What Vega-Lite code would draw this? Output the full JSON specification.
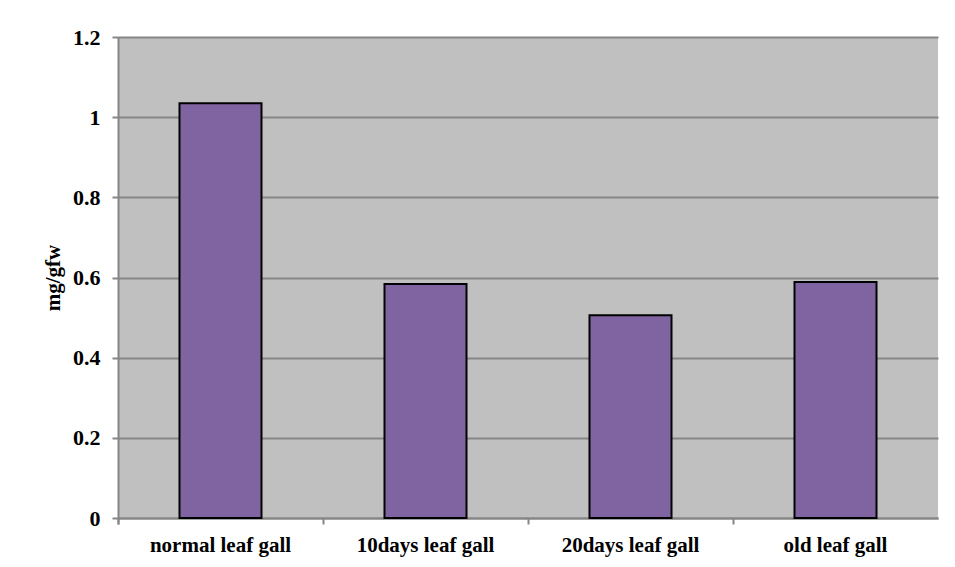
{
  "$schema": "https://vega.github.io/schema/vega-lite/v6.json",
  "width": 820,
  "height": 481,
  "autosize": {"type": "none"},
  "padding": {"left": 118, "top": 37, "right": 17, "bottom": 49},
  "background": "#FFFFFF",
  "data": {
    "values": [
      {"sample": "normal leaf gall", "value": 1.035},
      {"sample": "10days leaf gall", "value": 0.584},
      {"sample": "20days leaf gall", "value": 0.506},
      {"sample": "old leaf gall", "value": 0.589}
    ]
  },
  "mark": {
    "type": "bar",
    "color": "#8064A2",
    "stroke": "#000000",
    "strokeWidth": 2,
    "width": {"band": 0.4}
  },
  "encoding": {
    "x": {
      "field": "sample",
      "type": "nominal",
      "sort": null,
      "scale": {"paddingInner": 0, "paddingOuter": 0},
      "axis": {
        "title": null,
        "labelAngle": 0,
        "labelFont": "Liberation Serif",
        "labelFontWeight": "bold",
        "labelFontSize": 21,
        "labelColor": "#000000",
        "labelPadding": 10,
        "bandPosition": 0,
        "tickExtra": true,
        "tickSize": 6,
        "tickColor": "#868686",
        "tickWidth": 2,
        "domainColor": "#868686",
        "domainWidth": 2,
        "grid": false
      }
    },
    "y": {
      "field": "value",
      "type": "quantitative",
      "scale": {"domain": [0, 1.2], "nice": false},
      "axis": {
        "title": "mg/gfw",
        "titleFont": "Liberation Serif",
        "titleFontWeight": "bold",
        "titleFontSize": 21,
        "titleColor": "#000000",
        "titlePadding": 9,
        "values": [0, 0.2, 0.4, 0.6, 0.8, 1, 1.2],
        "format": "~g",
        "labelFont": "Liberation Serif",
        "labelFontWeight": "bold",
        "labelFontSize": 22,
        "labelColor": "#000000",
        "labelPadding": 12,
        "tickSize": 6,
        "tickColor": "#868686",
        "tickWidth": 2,
        "domainColor": "#868686",
        "domainWidth": 2,
        "grid": true,
        "gridColor": "#868686",
        "gridWidth": 2
      }
    }
  },
  "config": {
    "view": {"fill": "#C0C0C0", "stroke": null}
  }
}
